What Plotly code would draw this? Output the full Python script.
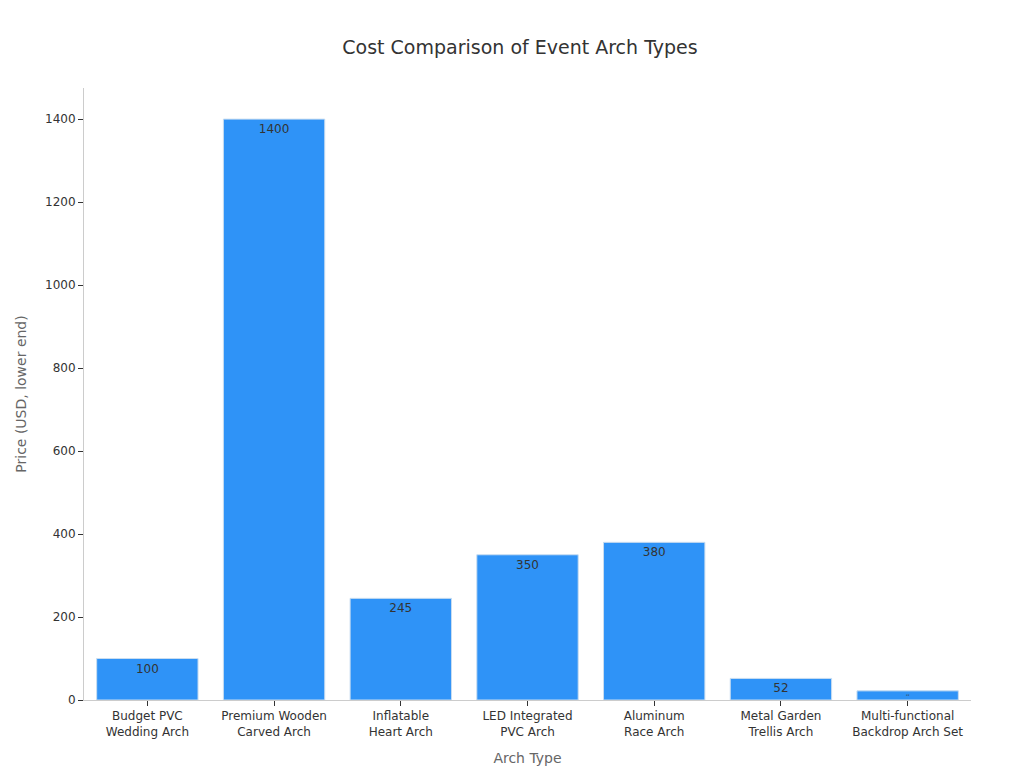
import plotly.graph_objects as go

categories = ["Budget PVC<br>Wedding Arch", "Premium Wooden<br>Carved Arch", "Inflatable<br>Heart Arch",
              "LED Integrated<br>PVC Arch", "Aluminum<br>Race Arch", "Metal Garden<br>Trellis Arch",
              "Multi-functional<br>Backdrop Arch Set"]
prices = [100, 1400, 245, 350, 380, 52, 22]

fig = go.Figure(go.Bar(
    x=categories, y=prices, text=[str(p) for p in prices],
    textposition="inside", insidetextanchor="end",
    textfont=dict(color="#333333", size=12),
    marker=dict(color="#2f93f7", line=dict(color="#c9ddf0", width=1)),
    width=0.8,
))
fig.update_layout(
    width=1024, height=768,
    font=dict(family="DejaVu Sans", color="#333333", size=12),
    title=dict(text="Cost Comparison of Event Arch Types", x=0.5, y=0.957, font=dict(size=19)),
    plot_bgcolor="white", paper_bgcolor="white",
    margin=dict(l=76, r=61, t=80, b=76),
    xaxis=dict(title=dict(text="Arch Type", font=dict(color="#666666", size=14)),
               showline=True, linecolor="#cccccc", ticks="outside", tickcolor="#333333", ticklen=5),
    yaxis=dict(title=dict(text="Price (USD, lower end)", font=dict(color="#666666", size=14)),
               range=[0, 1475], dtick=200, showgrid=False,
               showline=True, linecolor="#cccccc", ticks="outside", tickcolor="#333333", ticklen=5),
    bargap=0.2,
)
fig.write_html("out.html")
